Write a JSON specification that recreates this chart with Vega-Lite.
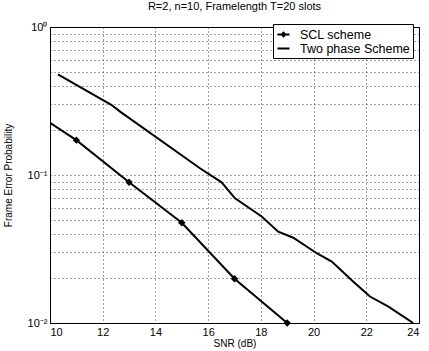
{
  "$schema": "https://vega.github.io/schema/vega-lite/v6.json",
  "autosize": "none",
  "width": 369,
  "height": 296,
  "padding": {"left": 50, "top": 27, "right": 10, "bottom": 28},
  "background": "white",
  "title": {"text": "R=2, n=10, Framelength T=20 slots", "fontSize": 11, "fontWeight": "normal", "font": "Liberation Sans", "color": "black", "offset": 9},
  "config": {
    "view": {"stroke": "black", "strokeWidth": 1},
    "font": "Liberation Sans",
    "axis": {"labelFont": "Liberation Sans", "titleFont": "Liberation Sans", "labelColor": "black", "titleColor": "black", "labelFontSize": 11, "titleFontSize": 10, "titleFontWeight": "normal", "domainColor": "black", "tickColor": "black", "gridColor": "black", "gridDash": [1, 3], "gridOpacity": 0.75, "gridWidth": 1, "ticks": false}
  },
  "datasets": {
    "curves": [
      {"snr": 10, "fep": 0.225, "series": "SCL scheme"},
      {"snr": 11, "fep": 0.172, "series": "SCL scheme"},
      {"snr": 13, "fep": 0.0893, "series": "SCL scheme"},
      {"snr": 15, "fep": 0.0476, "series": "SCL scheme"},
      {"snr": 17, "fep": 0.0199, "series": "SCL scheme"},
      {"snr": 19, "fep": 0.01, "series": "SCL scheme"},
      {"snr": 10.3, "fep": 0.479, "series": "Two phase Scheme"},
      {"snr": 12.34, "fep": 0.297, "series": "Two phase Scheme"},
      {"snr": 12.66, "fep": 0.268, "series": "Two phase Scheme"},
      {"snr": 15.69, "fep": 0.111, "series": "Two phase Scheme"},
      {"snr": 16.51, "fep": 0.0892, "series": "Two phase Scheme"},
      {"snr": 17.02, "fep": 0.0696, "series": "Two phase Scheme"},
      {"snr": 18.03, "fep": 0.0524, "series": "Two phase Scheme"},
      {"snr": 18.66, "fep": 0.0414, "series": "Two phase Scheme"},
      {"snr": 19.23, "fep": 0.0377, "series": "Two phase Scheme"},
      {"snr": 20.12, "fep": 0.0296, "series": "Two phase Scheme"},
      {"snr": 20.69, "fep": 0.026, "series": "Two phase Scheme"},
      {"snr": 21.51, "fep": 0.019, "series": "Two phase Scheme"},
      {"snr": 22.14, "fep": 0.0151, "series": "Two phase Scheme"},
      {"snr": 22.84, "fep": 0.0129, "series": "Two phase Scheme"},
      {"snr": 23.78, "fep": 0.01, "series": "Two phase Scheme"}
    ]
  },
  "data": {"name": "curves"},
  "encoding": {
    "x": {"field": "snr", "type": "quantitative", "scale": {"domain": [10, 24], "nice": false, "zero": false},
      "axis": {"title": "SNR (dB)", "values": [10, 12, 14, 16, 18, 20, 22, 24], "labelPadding": 3, "titlePadding": 1, "domain": true}},
    "y": {"field": "fep", "type": "quantitative", "scale": {"type": "log", "domain": [0.01, 1], "nice": false},
      "axis": {"title": "Frame Error Probability", "titlePadding": 14,
        "values": [0.01, 0.02, 0.03, 0.04, 0.05, 0.06, 0.07, 0.08, 0.09, 0.1, 0.2, 0.3, 0.4, 0.5, 0.6, 0.7, 0.8, 0.9, 1],
        "labelExpr": "datum.value == 1 ? '10⁰' : (datum.value == 0.1 ? '10⁻¹' : (datum.value == 0.01 ? '10⁻²' : ''))",
        "labelPadding": 3}}
  },
  "layer": [
    {
      "mark": {"type": "line", "strokeWidth": 2, "clip": true},
      "encoding": {
        "color": {"field": "series", "type": "nominal", "scale": {"domain": ["SCL scheme", "Two phase Scheme"], "range": ["black", "black"]},
          "legend": {"title": null, "orient": "none", "legendX": 223, "legendY": -3, "fillColor": "white", "strokeColor": "black", "padding": 3, "labelFontSize": 12.5, "labelFont": "Liberation Sans", "labelColor": "black", "symbolSize": 145, "rowPadding": 0, "labelOffset": 9,
            "encode": {"symbols": {"update": {
              "shape": {"signal": "datum.label == 'SCL scheme' ? 'M-1,0H1M0,-0.3L0.3,0L0,0.3L-0.3,0Z' : 'M-1,0H1'"},
              "fill": {"value": "black"}, "stroke": {"value": "black"}, "strokeWidth": {"value": 2}, "opacity": {"value": 1}}}}}}
      }
    },
    {
      "transform": [{"filter": "datum.series == 'SCL scheme' && datum.snr > 10"}],
      "mark": {"type": "point", "shape": "diamond", "filled": true, "color": "black", "opacity": 1, "size": 55, "clip": false}
    }
  ]
}
